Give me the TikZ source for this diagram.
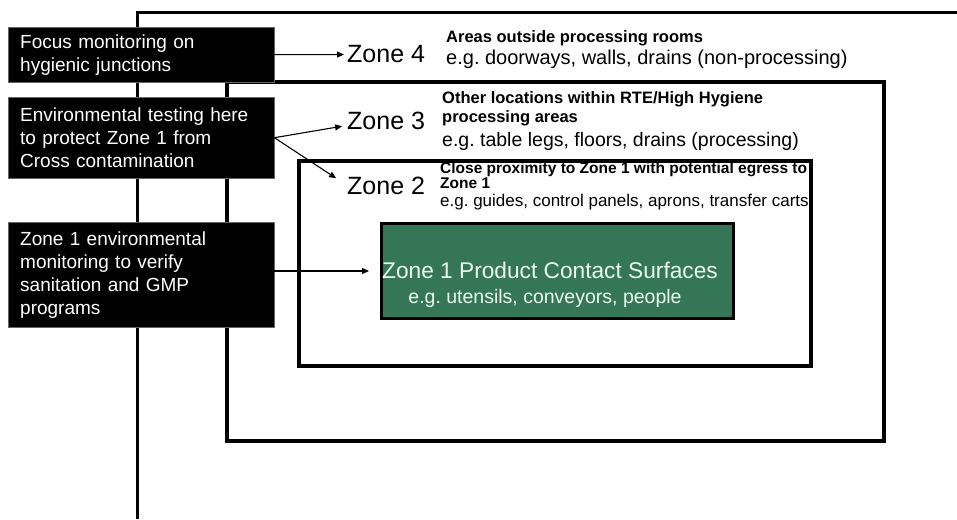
\documentclass[tikz,border=0pt]{standalone}
\usepackage{fontspec}
\setmainfont{Liberation Sans}
\frenchspacing
\usetikzlibrary{arrows.meta}
\definecolor{zonegreen}{RGB}{52,118,86}
\tikzset{
  infobox/.style={fill=black, draw=black!60, text=white, anchor=north west,
    minimum width=266pt, text width=242pt, inner xsep=12pt, align=left,
    font=\fontsize{19}{23}\selectfont},
  zonelabel/.style={anchor=base west, inner sep=0pt, font=\fontsize{25}{30}\selectfont},
  zonehead/.style={anchor=base west, inner sep=0pt, align=left,
    font=\bfseries\fontsize{16.5}{18.5}\selectfont},
  zoneeg/.style={anchor=base west, inner sep=0pt, font=\fontsize{19.5}{23}\selectfont},
  zonebox/.style={draw, line width=3.5pt},
  pointer/.style={-{Triangle[length=7pt,width=6pt]}, line width=1.1pt},
}
\begin{document}
\begin{tikzpicture}[x=1pt,y=-1pt]
  \useasboundingbox (0,0) rectangle (957,519);
  % zone frames, outermost first
  \draw[line width=3pt] (957,13) -| (137,519);
  \draw[zonebox] (227,82) rectangle (884,441);
  \draw[zonebox] (299,161) rectangle (811,366);
  \node[draw, line width=3pt, fill=zonegreen, anchor=north west,
    minimum width=352pt, minimum height=95pt] (zone1) at (380,222) {};
  \node[anchor=base, text=white!92!green, font=\fontsize{22.7}{25}\selectfont] (z1title) at (550,278) {Zone 1 Product Contact Surfaces};
  \node[anchor=base, text=white!92!green, font=\fontsize{19.5}{25}\selectfont] (z1eg) at (545,303) {e.g. utensils, conveyors, people};

  % zone names and what they hold (base = last line)
  \node[zonelabel] (zone4) at (347,63) {Zone 4};
  \node[zonelabel] (zone3) at (347,129) {Zone 3};
  \node[zonelabel] (zone2) at (347,194) {Zone 2};
  \node[zonehead] (z4head) at (446,43) {Areas outside processing rooms};
  \node[zoneeg, font=\fontsize{20}{23}\selectfont] (z4eg) at (446,64) {e.g. doorways, walls, drains (non-processing)};
  \node[zonehead] (z3head) at (442,122) {Other locations within RTE/High Hygiene\\processing areas};
  \node[zoneeg] (z3eg) at (442,146) {e.g. table legs, floors, drains (processing)};
  \node[zonehead, font=\bfseries\fontsize{15.5}{13.5}\selectfont] (z2head) at (440,188) {Close proximity to Zone 1 with potential egress to\\Zone 1};
  \node[zoneeg, font=\fontsize{17}{20}\selectfont] (z2eg) at (440,206) {e.g. guides, control panels, aprons, transfer carts};

  % black notes on the left
  \node[infobox, minimum height=55pt] (focus) at (8,27) {Focus monitoring on\\hygienic junctions};
  \node[infobox, minimum height=81pt] (envtest) at (8,97) {Environmental testing here\\to protect Zone 1 from\\Cross contamination};
  \node[infobox, minimum height=105pt] (verify) at (8,222) {Zone 1 environmental\\monitoring to verify\\sanitation and GMP\\programs};

  \draw[pointer, shorten >=3pt] (focus.east) -- (zone4.west);
  \draw[pointer, shorten >=5pt] (envtest.east) -- ([yshift=-5pt]zone3.west);
  \draw[pointer, shorten >=13pt] (envtest.east) -- (zone2.west);
  \draw[pointer, shorten >=11pt] (verify.east |- zone1.west) -- (zone1.west);
\end{tikzpicture}
\end{document}
